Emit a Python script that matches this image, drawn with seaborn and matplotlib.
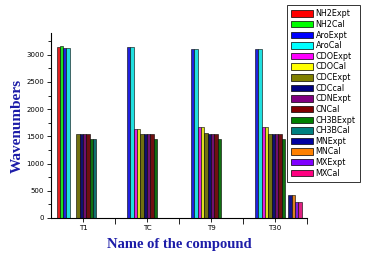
import numpy as np
import pandas as pd
import matplotlib
matplotlib.use("Agg")
import matplotlib.pyplot as plt
from matplotlib.ticker import MultipleLocator, FixedLocator
from matplotlib.patches import Patch
import seaborn as sns

compounds = ["T1", "TC", "T9", "T30"]
series = ["NH2Expt", "NH2Cal", "AroExpt", "AroCal", "CDOExpt", "CDOCal",
          "CDCExpt", "CDCcal", "CDNExpt", "CNCal", "CH3BExpt", "CH3BCal",
          "MNExpt", "MNCal", "MXExpt", "MXCal"]
colors = ["#ff0000", "#00ff00", "#0000ff", "#00ffff", "#ff00ff", "#ffff00",
          "#808000", "#000080", "#800080", "#800000", "#008000", "#008080",
          "#0000a0", "#ff8000", "#8000ff", "#ff0080"]
nan = np.nan
values_T1 = [3140, 3160, 3125, 3125, nan, nan, 1540, 1540, 1540, 1540, 1460, 1460, nan, nan, nan, nan]
values_TC = [nan, nan, 3150, 3150, 1635, 1635, 1540, 1540, 1540, 1540, 1450, nan, nan, nan, nan, nan]
values_T9 = [nan, nan, 3110, 3110, 1665, 1665, 1560, 1550, 1540, 1540, 1460, nan, nan, nan, nan, nan]
values_T30 = [nan, nan, 3110, 3110, 1665, 1665, 1540, 1540, 1540, 1540, 1455, nan, 420, 420, 300, 300]

rows = []
for comp, vals in zip(compounds, [values_T1, values_TC, values_T9, values_T30]):
    for s, v in zip(series, vals):
        if not np.isnan(v):
            rows.append({"compound": comp, "series": s, "value": v})
df = pd.DataFrame(rows)

fig = plt.figure(figsize=(3.7, 2.54), dpi=100)
ax = fig.add_axes([0.138, 0.142, 0.692, 0.728])

sns.barplot(data=df, x="compound", y="value", hue="series", order=compounds,
            hue_order=series, palette=dict(zip(series, colors)), width=0.83,
            edgecolor="black", linewidth=0.4, errorbar=None, ax=ax, legend=False)

ax.set_xlim(-0.5, 3.5)
ax.set_ylim(0, 3400)
for sp in ["top", "right"]:
    ax.spines[sp].set_visible(False)
for sp in ["left", "bottom"]:
    ax.spines[sp].set_linewidth(0.8)
ax.yaxis.set_major_locator(MultipleLocator(500))
ax.yaxis.set_minor_locator(MultipleLocator(250))
ax.xaxis.set_minor_locator(FixedLocator([0.5, 1.5, 2.5, 3.5]))
ax.tick_params(axis="both", which="major", direction="out", length=3, width=0.6, labelsize=5, pad=2)
ax.tick_params(axis="both", which="minor", direction="out", length=2, width=0.6)
ax.tick_params(axis="x", which="minor", length=4)

lab_color = "#1c1ca8"
ax.set_xlabel("Name of the compound", fontsize=10.5, fontweight="bold",
              family="Liberation Serif", color=lab_color, labelpad=5)
ax.set_ylabel("Wavenumbers", fontsize=11, fontweight="bold",
              family="Liberation Serif", color=lab_color, labelpad=2)

handles = [Patch(facecolor=c, edgecolor="black", linewidth=0.5) for c in colors]
leg = fig.legend(handles, series, loc="upper left", bbox_to_anchor=(287/370, 1 - 5/254),
                 fontsize=5.8, frameon=True, fancybox=False, edgecolor="black",
                 handlelength=2.7, handleheight=0.85, labelspacing=0.2,
                 handletextpad=0.3, borderpad=0.55, borderaxespad=0)
leg.get_frame().set_linewidth(0.7)

fig.savefig("out.png", dpi=100)
